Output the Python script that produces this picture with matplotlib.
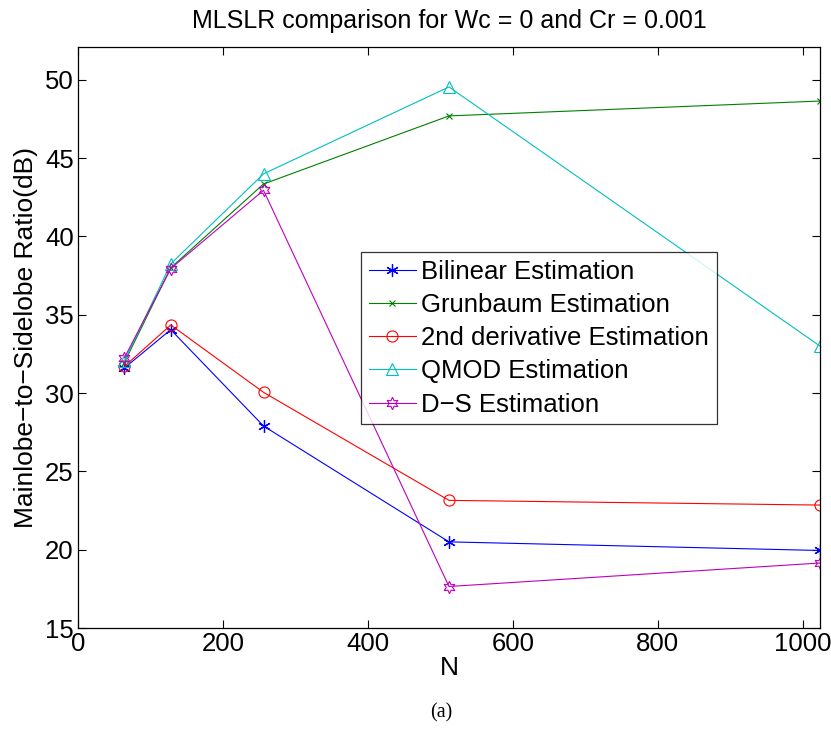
import matplotlib
matplotlib.use("Agg")
import matplotlib.pyplot as plt

N = [64, 128, 256, 512, 1024]
bilinear = [31.6, 34.05, 27.9, 20.5, 19.95]
grunbaum = [31.95, 38.0, 43.35, 47.7, 48.65]
second_deriv = [31.7, 34.35, 30.05, 23.15, 22.85]
qmod = [32.05, 38.25, 44.0, 49.55, 33.0]
ds = [32.25, 37.95, 42.95, 17.65, 19.15]

labels = ["Bilinear Estimation", "Grunbaum Estimation", "2nd derivative Estimation",
          "QMOD Estimation", "D\u2212S Estimation"]
xticks = [0, 200, 400, 600, 800, 1000]
yticks = [15, 20, 25, 30, 35, 40, 45, 50]

plt.rcParams['font.family'] = ['Liberation Sans', 'DejaVu Sans']

fig = plt.figure(figsize=(8.31, 7.44), dpi=100)
ax = fig.add_axes([78/831, 1-628/744, (820-78)/831, (628-47)/744])

ax.plot(N, bilinear, color='#0000ff', marker=(6, 2, 0), ms=9, mew=0.9, lw=0.8, label=labels[0])
ax.plot(N, grunbaum, color='#008000', marker='x', ms=5, mew=0.8, lw=0.8, label=labels[1])
ax.plot(N, second_deriv, color='#ff0000', marker='o', ms=8, mfc='none', mew=0.8, lw=0.8, label=labels[2])
ax.plot(N, qmod, color='#00bfbf', marker='^', ms=9, mfc='none', mew=0.8, lw=0.8, label=labels[3])
ax.plot(N, ds, color='#bf00bf', marker=(6, 1, 0), ms=9, mfc='none', mew=0.8, lw=0.8, label=labels[4])

ax.set_xlim(0, 1024)
ax.set_ylim(15, 52.1)
ax.set_xticks(xticks)
ax.set_yticks(yticks)
ax.tick_params(direction='in', length=6, width=0.8, labelsize=18.5, top=True, right=True, pad=3)
for s in ax.spines.values():
    s.set_linewidth(0.9)

ax.set_xlabel("N", fontsize=19, labelpad=0)
ax.set_ylabel("Mainlobe\u2212to\u2212Sidelobe Ratio(dB)", fontsize=19, labelpad=5)
ax.set_title("MLSLR comparison for Wc = 0 and Cr = 0.001", fontsize=18, pad=14)

leg = ax.legend(loc='upper left', bbox_to_anchor=((361-78)/742, (628-252)/581),
                fontsize=18.5, frameon=True, fancybox=False, edgecolor='black',
                handlelength=1.85, handletextpad=0.2, borderpad=0.3, labelspacing=0.36,
                borderaxespad=0)
leg.get_frame().set_linewidth(0.9)

fig.text(441/831, 1-713/744, "(a)", fontsize=14.5, family=['Liberation Serif', 'DejaVu Serif'],
         ha='center', va='center')

fig.savefig("out.png", dpi=100)
